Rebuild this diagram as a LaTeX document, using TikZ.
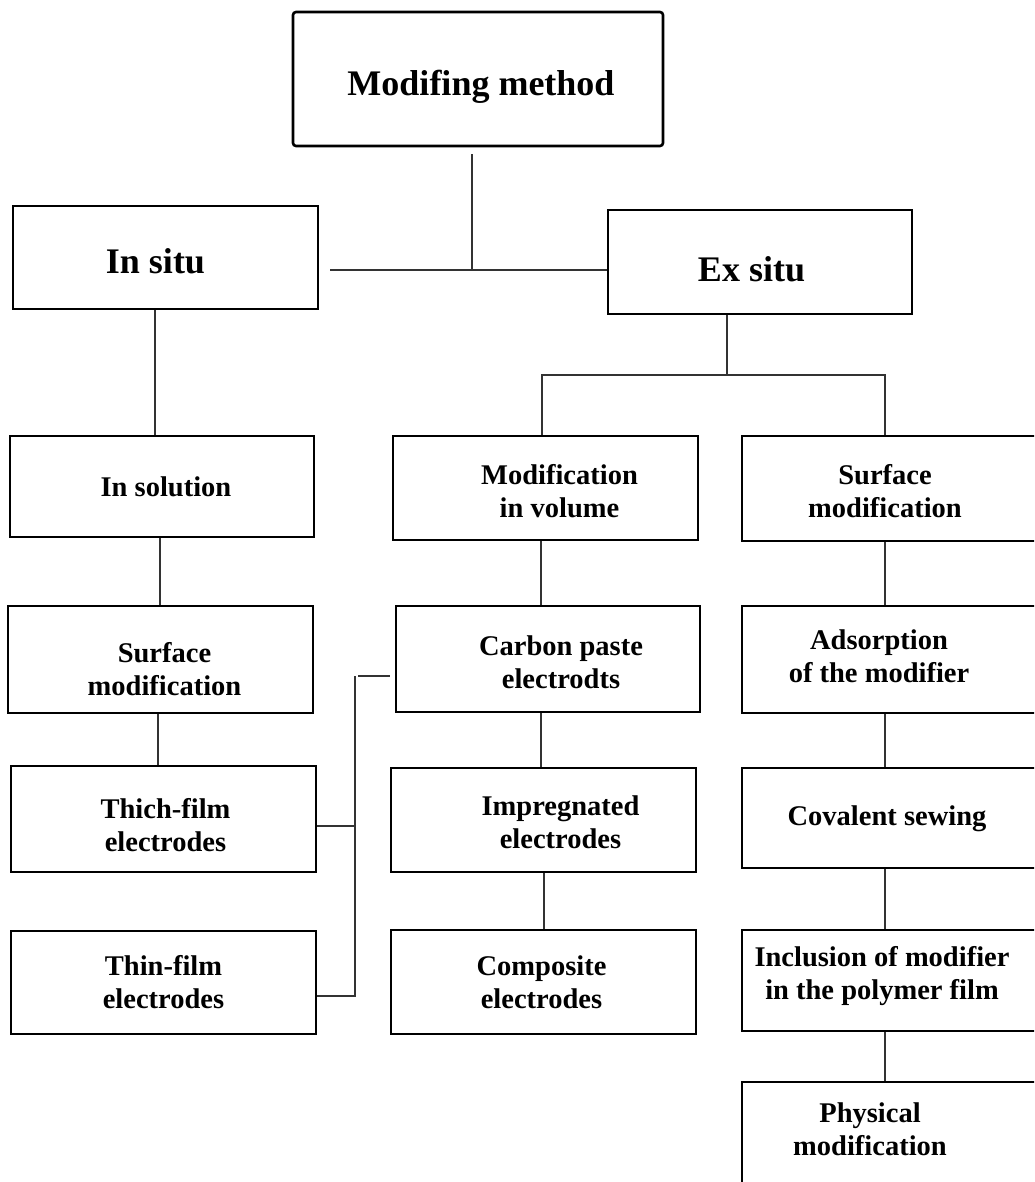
\documentclass[tikz,border=0pt]{standalone}
\usepackage{fontspec}
\setmainfont{Liberation Serif}
\begin{document}
\begin{tikzpicture}[x=1pt,y=-1pt,
  box/.style={draw=black, line width=2.6pt, rectangle, inner sep=0pt, minimum width=305},
  txt/.style={inner sep=0pt, align=center, font=\bfseries\fontsize{28.5}{33}\selectfont},
  bigtxt/.style={txt, font=\bfseries\fontsize{36}{40}\selectfont},
  conn/.style={draw=black!80, line width=1.6pt}]
\clip (0,0) rectangle (1034,1182);
\useasboundingbox (0,0) rectangle (1034,1182);
\fill[white] (0,0) rectangle (1034,1182);

% top level boxes
\node[box, rounded corners=3pt, minimum width=370, minimum height=134] (top) at (478,79) {};
\node[box, minimum height=103] (insitu) at (165.5,257.5) {};
\node[box, minimum width=304, minimum height=104] (exsitu) at (760,262) {};
% left column
\node[box, minimum width=304, minimum height=101] (insol) at (162,486.5) {};
\node[box, minimum height=107] (lsurf) at (160.5,659.5) {};
\node[box, minimum height=106] (thich) at (163.5,819) {};
\node[box, minimum height=103] (thin) at (163.5,982.5) {};
% middle column
\node[box, minimum height=104] (vol) at (545.5,488) {};
\node[box, minimum width=304, minimum height=106] (carbon) at (548,659) {};
\node[box, minimum height=104] (impreg) at (543.5,820) {};
\node[box, minimum height=104] (compos) at (543.5,982) {};
% right column (cut by the right edge)
\node[box, minimum width=298, minimum height=105] (rsurf) at (891,488.5) {};
\node[box, minimum width=298, minimum height=107] (adsorb) at (891,659.5) {};
\node[box, minimum width=298, minimum height=100] (coval) at (891,818) {};
\node[box, minimum width=298, minimum height=101] (incl) at (891,980.5) {};
\node[box, minimum width=298, minimum height=108] (phys) at (891,1136) {};

% texts
\node[bigtxt] (top-t) at ([shift={(3,8)}]top.center) {Modifing method};
\node[bigtxt] (insitu-t) at ([shift={(-10,4)}]insitu.center) {In situ};
\node[bigtxt] (exsitu-t) at ([shift={(-8.5,7)}]exsitu.center) {Ex situ};
\node[txt] (insol-t) at ([shift={(4,0)}]insol.center) {In solution};
\node[txt] (lsurf-t) at ([shift={(4,10)}]lsurf.center) {Surface\\modification};
\node[txt] (thich-t) at ([shift={(2,6)}]thich.center) {Thich-film\\electrodes};
\node[txt] (thin-t) at (thin.center) {Thin-film\\electrodes};
\node[txt] (vol-t) at ([shift={(14,3)}]vol.center) {Modification\\in volume};
\node[txt] (carbon-t) at ([shift={(13,3)}]carbon.center) {Carbon paste\\electrodts};
\node[txt] (impreg-t) at ([shift={(17,2)}]impreg.center) {Impregnated\\electrodes};
\node[txt] (compos-t) at ([shift={(-2,0)}]compos.center) {Composite\\electrodes};
\node[txt] (rsurf-t) at ([shift={(-6,3)}]rsurf.center) {Surface\\modification};
\node[txt] (adsorb-t) at ([shift={(-12,-3)}]adsorb.center) {Adsorption\\of the modifier};
\node[txt] (coval-t) at ([shift={(-4,1)}]coval.center) {Covalent sewing};
\node[txt] (incl-t) at ([shift={(-9,-4)}]incl.center) {Inclusion of modifier\\in the polymer film};
\node[txt] (phys-t) at ([shift={(-21,-7)}]phys.center) {Physical\\modification};

% connectors: top level
\coordinate (j1) at (472,270);
\draw[conn] (j1 |- top.south) ++(0,7) -- (j1);
\draw[conn] ([xshift=11pt]insitu.east |- j1) -- (exsitu.west |- j1);

% left column
\coordinate (lx) at (155,0);
\draw[conn] (lx |- insitu.south) -- (lx |- insol.north);
\coordinate (lx2) at (160,0);
\draw[conn] (lx2 |- insol.south) -- (lx2 |- lsurf.north);
\coordinate (lx3) at (158,0);
\draw[conn] (lx3 |- lsurf.south) -- (lx3 |- thich.north);

% bracket joining thich/thin films to carbon paste
\coordinate (bx) at (355,0);
\coordinate (b1) at (0,826);
\coordinate (b2) at (0,995.7);
\coordinate (b0) at (0,676);
\draw[conn] (thich.east |- b1) -- (bx |- b1);
\draw[conn] (thin.east |- b2) -- (bx |- b2) -- (bx |- b0);
\draw[conn] ([xshift=3pt]bx |- b0) -- ([xshift=-5pt]carbon.west |- b0);

% ex situ branches
\coordinate (ex) at (727,375);
\draw[conn] (ex |- exsitu.south) -- (ex);
\coordinate (mx) at (542,0);
\coordinate (rx) at (885,0);
\draw[conn] (mx |- vol.north) -- (mx |- ex) -- (rx |- ex) -- (rx |- rsurf.north);

% middle column
\coordinate (mx1) at (541,0);
\draw[conn] (mx1 |- vol.south) -- (mx1 |- carbon.north);
\draw[conn] (mx1 |- carbon.south) -- (mx1 |- impreg.north);
\coordinate (mx2) at (544,0);
\draw[conn] (mx2 |- impreg.south) -- (mx2 |- compos.north);

% right column
\draw[conn] (rx |- rsurf.south) -- (rx |- adsorb.north);
\draw[conn] (rx |- adsorb.south) -- (rx |- coval.north);
\draw[conn] (rx |- coval.south) -- (rx |- incl.north);
\draw[conn] (rx |- incl.south) -- (rx |- phys.north);
\end{tikzpicture}
\end{document}
